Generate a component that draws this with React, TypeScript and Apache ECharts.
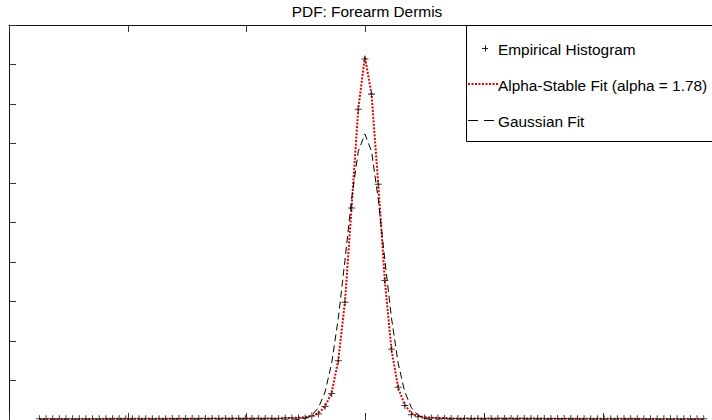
import React, { useEffect, useRef } from "react";
import * as echarts from "echarts";

// Histogram bin centres (x, in axis units) — regular bins
const binStart = -2.744;
const binWidth = 0.0559;
const binCount = 101;

// Empirical histogram heights
const empirical = [
  0.03, 0.03, 0.03, 0.03, 0.03, 0.03, 0.03, 0.03, 0.03, 0.03,
  0.03, 0.03, 0.03, 0.03, 0.03, 0.03, 0.03, 0.03, 0.03, 0.03,
  0.04, 0.04, 0.04, 0.04, 0.04, 0.04, 0.04, 0.04, 0.04, 0.04,
  0.04, 0.04, 0.04, 0.04, 0.04, 0.04, 0.04, 0.05, 0.05, 0.05,
  0.05, 0.10, 0.15, 0.34, 0.67, 1.50, 2.98, 5.37, 7.87, 9.14,
  8.25, 5.97, 3.53, 1.79, 0.83, 0.37, 0.13, 0.08, 0.05,
  0.05, 0.05, 0.04, 0.04, 0.04,
  0.04, 0.04, 0.04, 0.04, 0.04, 0.04, 0.04, 0.04, 0.04, 0.04,
  0.04, 0.04, 0.04, 0.04, 0.04, 0.04, 0.04,
  0.03, 0.03, 0.03, 0.03, 0.03, 0.03, 0.03, 0.03, 0.03, 0.03,
  0.03, 0.03, 0.03, 0.03, 0.03, 0.03, 0.03, 0.03, 0.03, 0.03,
];

// Alpha-stable fit (alpha = 1.78)
const alphaFit = [
  0.02, 0.02, 0.02, 0.02, 0.02, 0.02, 0.02, 0.02, 0.02, 0.02,
  0.03, 0.03, 0.03, 0.03, 0.03, 0.03, 0.03, 0.03, 0.03, 0.03,
  0.03, 0.03, 0.03, 0.03, 0.03,
  0.04, 0.04, 0.04, 0.04, 0.04, 0.04, 0.04, 0.04, 0.04, 0.04, 0.04, 0.04,
  0.05, 0.05, 0.06,
  0.07, 0.10, 0.17, 0.34, 0.70, 1.52, 3.00, 5.40, 7.88, 9.20,
  8.24, 6.00, 3.52, 1.78, 0.82, 0.38, 0.17, 0.10, 0.07,
  0.06, 0.05, 0.05,
  0.04, 0.04, 0.04, 0.04, 0.04, 0.04, 0.04, 0.04, 0.04, 0.04, 0.04, 0.04, 0.04, 0.04,
  0.03, 0.03, 0.03, 0.03, 0.03, 0.03, 0.03, 0.03, 0.03, 0.03, 0.03, 0.03, 0.03, 0.03, 0.03,
  0.02, 0.02, 0.02, 0.02, 0.02, 0.02, 0.02, 0.02, 0.02, 0.02,
];

// Gaussian fit
const gaussFit = [
  0, 0, 0, 0, 0, 0, 0, 0, 0, 0,
  0, 0, 0, 0, 0, 0, 0, 0, 0, 0,
  0, 0, 0, 0, 0, 0, 0, 0, 0, 0,
  0, 0, 0, 0, 0, 0, 0, 0, 0,
  0.01, 0.04, 0.12, 0.31, 0.71, 1.44, 2.58, 4.05, 5.60, 6.80, 7.24,
  6.80, 5.60, 4.05, 2.58, 1.44, 0.71, 0.31, 0.12, 0.04, 0.01,
  0, 0, 0, 0, 0, 0, 0, 0, 0, 0,
  0, 0, 0, 0, 0, 0, 0, 0, 0, 0,
  0, 0, 0, 0, 0, 0, 0, 0, 0, 0,
  0, 0, 0, 0, 0, 0, 0, 0, 0, 0,
  0,
];

const titleText = "PDF: Forearm Dermis";
const legendLabels = [
  "Empirical Histogram",
  "Alpha-Stable Fit (alpha = 1.78)",
  "Gaussian Fit",
];

const FONT = "'Liberation Sans', Arial, sans-serif";
const FONT_SIZE = 15.4;
const RED = "#e00000";

const binCenters = Array.from({ length: binCount }, (_, i) =>
  Number((binStart + i * binWidth).toFixed(4))
);
const pairs = (vals: number[]) => vals.map((v, i) => [binCenters[i], v]);

export default function App() {
  const ref = useRef<HTMLDivElement>(null);

  useEffect(() => {
    if (!ref.current) return;
    const chart = echarts.init(ref.current, null, { renderer: "svg" });

    const axisCommon = {
      axisLine: { show: true, onZero: false, lineStyle: { color: "#111", width: 1 } },
      axisTick: { show: true, inside: true, length: 7, lineStyle: { color: "#333", width: 1 } },
      axisLabel: { show: false },
      splitLine: { show: false },
    };

    chart.setOption({
      animation: false,
      backgroundColor: "#fff",
      title: {
        text: titleText,
        left: 367,
        top: 4,
        padding: 0,
        textAlign: "center",
        textStyle: { fontSize: FONT_SIZE, fontWeight: "normal", color: "#000", fontFamily: FONT },
      },
      grid: { left: 9, top: 25, right: 18, bottom: 20 },
      xAxis: [
        { type: "value", min: -3, max: 3, interval: 1, position: "bottom", ...axisCommon },
        { type: "value", min: -3, max: 3, interval: 1, position: "top", ...axisCommon },
      ],
      yAxis: [
        { type: "value", min: 0, max: 10, interval: 1, position: "left", ...axisCommon },
        { type: "value", min: 0, max: 10, interval: 1, position: "right", ...axisCommon },
      ],
      series: [
        {
          name: legendLabels[1],
          type: "line",
          data: pairs(alphaFit),
          showSymbol: false,
          symbol: "none",
          lineStyle: { color: RED, width: 2, type: [2, 1.5], cap: "butt" },
          z: 2,
        },
        {
          name: legendLabels[2],
          type: "line",
          data: pairs(gaussFit),
          showSymbol: false,
          symbol: "none",
          lineStyle: { color: "#000", width: 1, type: [7, 4] },
          z: 3,
        },
        {
          name: legendLabels[0],
          type: "scatter",
          data: pairs(empirical),
          symbol: "path://M3,0H4V3H7V4H4V7H3V4H0V3H3Z",
          symbolSize: 7,
          itemStyle: { color: "#111" },
          z: 4,
        },
      ],
      graphic: [
        {
          type: "rect",
          z: 100,
          shape: { x: 466.5, y: 25.5, width: 260, height: 116 },
          style: { fill: "#fff", stroke: "#000", lineWidth: 1 },
        },
        {
          type: "line",
          z: 101,
          shape: { x1: 482, y1: 48.5, x2: 488, y2: 48.5 },
          style: { stroke: "#1a1a1a", lineWidth: 1 },
        },
        {
          type: "line",
          z: 101,
          shape: { x1: 485.5, y1: 45.5, x2: 485.5, y2: 51.5 },
          style: { stroke: "#1a1a1a", lineWidth: 1 },
        },
        {
          type: "line",
          z: 101,
          shape: { x1: 468, y1: 84, x2: 498, y2: 84 },
          style: { stroke: RED, lineWidth: 2, lineDash: [2, 1.5] },
        },
        {
          type: "line",
          z: 101,
          shape: { x1: 468, y1: 120.5, x2: 495, y2: 120.5 },
          style: { stroke: "#000", lineWidth: 1, lineDash: [10, 6] },
        },
        ...legendLabels.map((label, i) => ({
          type: "text",
          z: 101,
          x: 498,
          y: 49 + i * 36,
          style: {
            text: label,
            fill: "#000",
            font: `${FONT_SIZE}px ${FONT}`,
            textAlign: "left",
            textVerticalAlign: "middle",
          },
        })),
      ],
    });

    return () => chart.dispose();
  }, []);

  return (
    <div
      style={{
        position: "fixed",
        left: 0,
        top: 0,
        width: 712,
        height: 420,
        overflow: "hidden",
        background: "#fff",
      }}
    >
      <div ref={ref} style={{ width: 740, height: 440 }} />
    </div>
  );
}
